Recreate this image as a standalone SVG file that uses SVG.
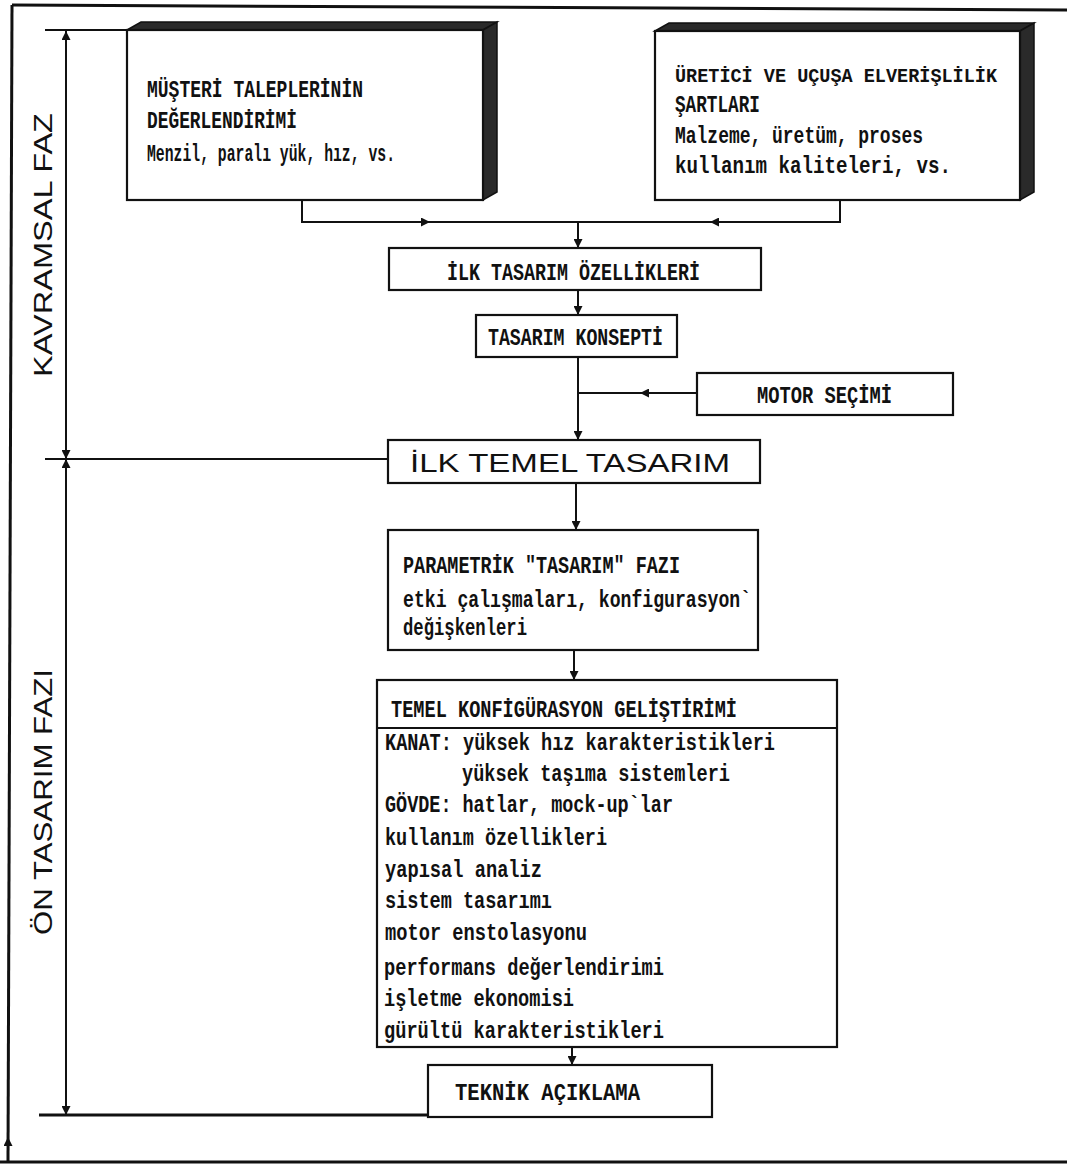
<svg xmlns="http://www.w3.org/2000/svg" width="1067" height="1165" viewBox="0 0 1067 1165">
<style>
.bg{fill:#fff}
.box{fill:#fff;stroke:#111;stroke-width:2.2}
.face{fill:#2a2a2a;stroke:#111;stroke-width:1.5}
.ln{fill:none;stroke:#111;stroke-width:2}
.fr{fill:none;stroke:#111;stroke-width:3}
.t{font-family:"Liberation Mono","DejaVu Sans Mono",monospace;font-size:23px;font-weight:bold;fill:#111}
.s{font-family:"Liberation Sans","DejaVu Sans",sans-serif;font-size:25px;fill:#111}
</style>
<defs>
<marker id="ar" viewBox="0 0 10 10" refX="10" refY="5" markerWidth="9" markerHeight="9" markerUnits="userSpaceOnUse" orient="auto-start-reverse">
<path d="M0,0 L10,5 L0,10 z" fill="#111"/>
</marker>
</defs>
<rect class="bg" x="0" y="0" width="1067" height="1165"/>

<g id="frame">
<path class="fr" d="M12,5 L1067,10"/>
<path class="fr" d="M12,5 L8,1162"/>
<path class="fr" d="M0,1162 H1067"/>
<path class="ln" d="M8,1152 L8,1137" marker-end="url(#ar)"/>
</g>

<g id="dimensions">
<path class="ln" d="M45,30 H127"/>
<path class="ln" d="M45,459 H388"/>
<path class="fr" d="M39,1115 H428"/>
<path class="ln" d="M66,31 V459" marker-start="url(#ar)" marker-end="url(#ar)"/>
<path class="ln" d="M66,459 V1115" marker-start="url(#ar)" marker-end="url(#ar)"/>
<text class="s" transform="translate(52,377) rotate(-90)" textLength="264" lengthAdjust="spacingAndGlyphs">KAVRAMSAL FAZ</text>
<text class="s" transform="translate(52,935) rotate(-90)" textLength="266" lengthAdjust="spacingAndGlyphs">ÖN TASARIM FAZI</text>
</g>

<g id="connectors">
<path class="ln" d="M302,200 V222 H430" marker-end="url(#ar)"/>
<path class="ln" d="M430,222 H578"/>
<path class="ln" d="M840,200 V222 H710" marker-end="url(#ar)"/>
<path class="ln" d="M710,222 H578"/>
<path class="ln" d="M578,222 V248" marker-end="url(#ar)"/>
<path class="ln" d="M578,290 V315" marker-end="url(#ar)"/>
<path class="ln" d="M578,357 V440" marker-end="url(#ar)"/>
<path class="ln" d="M697,393 H640" marker-end="url(#ar)"/>
<path class="ln" d="M640,393 H578"/>
<path class="ln" d="M576,483 V530" marker-end="url(#ar)"/>
<path class="ln" d="M574,650 V680" marker-end="url(#ar)"/>
<path class="ln" d="M572,1047 V1065" marker-end="url(#ar)"/>
</g>

<g id="musteri">
<polygon class="face" points="127,30 141,22 497,22 483,30"/>
<polygon class="face" points="483,30 497,22 497,192 483,200"/>
<rect class="box" x="127" y="30" width="356" height="170"/>
<text class="t" x="147" y="97" textLength="216" lengthAdjust="spacingAndGlyphs">MÜŞTERİ TALEPLERİNİN</text>
<text class="t" x="147" y="128" textLength="150" lengthAdjust="spacingAndGlyphs">DEĞERLENDİRİMİ</text>
<text class="t" x="147" y="161" textLength="248" lengthAdjust="spacingAndGlyphs">Menzil, paralı yük, hız, vs.</text>
</g>

<g id="uretici">
<polygon class="face" points="655,31 669,23 1034,23 1020,31"/>
<polygon class="face" points="1020,31 1034,23 1034,192 1020,200"/>
<rect class="box" x="655" y="31" width="365" height="169"/>
<text class="t" x="675" y="82" style="font-size:20px" textLength="322" lengthAdjust="spacingAndGlyphs">ÜRETİCİ VE UÇUŞA ELVERİŞLİLİK</text>
<text class="t" x="675" y="112" textLength="85" lengthAdjust="spacingAndGlyphs">ŞARTLARI</text>
<text class="t" x="675" y="143" textLength="248" lengthAdjust="spacingAndGlyphs">Malzeme, üretüm, proses</text>
<text class="t" x="675" y="173" textLength="276" lengthAdjust="spacingAndGlyphs">kullanım kaliteleri, vs.</text>
</g>

<g id="ilk-tasarim-ozellikleri">
<rect class="box" x="389" y="248" width="372" height="42"/>
<text class="t" x="447" y="280" textLength="253" lengthAdjust="spacingAndGlyphs">İLK TASARIM ÖZELLİKLERİ</text>
</g>

<g id="tasarim-konsepti">
<rect class="box" x="476" y="315" width="201" height="42"/>
<text class="t" x="488" y="345" textLength="175" lengthAdjust="spacingAndGlyphs">TASARIM KONSEPTİ</text>
</g>

<g id="motor-secimi">
<rect class="box" x="697" y="373" width="256" height="42"/>
<text class="t" x="757" y="403" textLength="135" lengthAdjust="spacingAndGlyphs">MOTOR SEÇİMİ</text>
</g>

<g id="ilk-temel-tasarim">
<rect class="box" x="388" y="440" width="372" height="43"/>
<text class="s" x="410" y="472" textLength="320" lengthAdjust="spacingAndGlyphs">İLK TEMEL TASARIM</text>
</g>

<g id="parametrik">
<rect class="box" x="388" y="530" width="370" height="120"/>
<text class="t" x="403" y="573" textLength="277" lengthAdjust="spacingAndGlyphs">PARAMETRİK "TASARIM" FAZI</text>
<text class="t" x="403" y="607" textLength="348" lengthAdjust="spacingAndGlyphs">etki çalışmaları, konfigurasyon`</text>
<text class="t" x="403" y="635" textLength="124" lengthAdjust="spacingAndGlyphs">değişkenleri</text>
</g>

<g id="temel-konfigurasyon">
<rect class="box" x="377" y="680" width="460" height="367"/>
<path class="ln" d="M377,728 H837"/>
<text class="t" x="391" y="717" textLength="346" lengthAdjust="spacingAndGlyphs">TEMEL KONFİGÜRASYON GELİŞTİRİMİ</text>
<text class="t" x="385" y="750" textLength="390" lengthAdjust="spacingAndGlyphs">KANAT: yüksek hız karakteristikleri</text>
<text class="t" x="462" y="781" textLength="268" lengthAdjust="spacingAndGlyphs">yüksek taşıma sistemleri</text>
<text class="t" x="385" y="812" textLength="288" lengthAdjust="spacingAndGlyphs">GÖVDE: hatlar, mock-up`lar</text>
<text class="t" x="385" y="845" textLength="222" lengthAdjust="spacingAndGlyphs">kullanım özellikleri</text>
<text class="t" x="385" y="877" textLength="157" lengthAdjust="spacingAndGlyphs">yapısal analiz</text>
<text class="t" x="385" y="908" textLength="167" lengthAdjust="spacingAndGlyphs">sistem tasarımı</text>
<text class="t" x="385" y="940" textLength="202" lengthAdjust="spacingAndGlyphs">motor enstolasyonu</text>
<text class="t" x="384" y="975" textLength="280" lengthAdjust="spacingAndGlyphs">performans değerlendirimi</text>
<text class="t" x="384" y="1006" textLength="190" lengthAdjust="spacingAndGlyphs">işletme ekonomisi</text>
<text class="t" x="384" y="1038" textLength="280" lengthAdjust="spacingAndGlyphs">gürültü karakteristikleri</text>
</g>

<g id="teknik-aciklama">
<rect class="box" x="428" y="1065" width="284" height="52"/>
<text class="t" x="455" y="1100" textLength="185" lengthAdjust="spacingAndGlyphs">TEKNİK AÇIKLAMA</text>
</g>
</svg>
